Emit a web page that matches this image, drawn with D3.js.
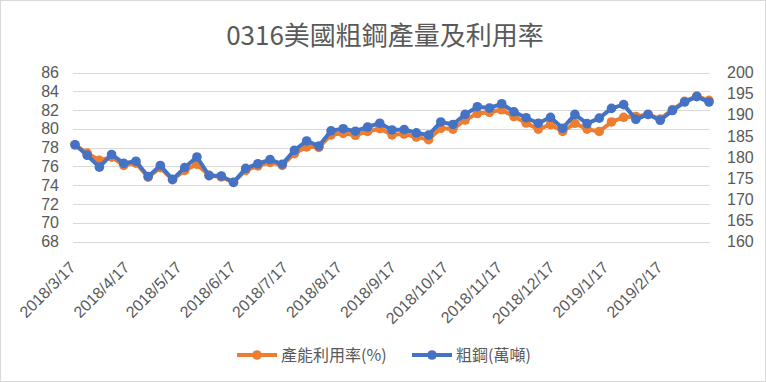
<!DOCTYPE html>
<html><head><meta charset="utf-8">
<script src="https://cdn.jsdelivr.net/npm/d3@7/dist/d3.min.js"></script>
<style>
html,body{margin:0;padding:0;background:#fff;}
svg{display:block;font-family:"Noto Sans CJK TC","Noto Sans",sans-serif;}
</style></head>
<body>
<svg id="chart" width="766" height="382"></svg>
<script>
const title = "0316美國粗鋼產量及利用率";
const dates = ["2018-03-17","2018-03-24","2018-03-31","2018-04-07","2018-04-14","2018-04-21","2018-04-28",
"2018-05-05","2018-05-12","2018-05-19","2018-05-26","2018-06-02","2018-06-09","2018-06-16","2018-06-23","2018-06-30",
"2018-07-07","2018-07-14","2018-07-21","2018-07-28","2018-08-04","2018-08-11","2018-08-18","2018-08-25",
"2018-09-01","2018-09-08","2018-09-15","2018-09-22","2018-09-29","2018-10-06","2018-10-13","2018-10-20","2018-10-27",
"2018-11-03","2018-11-10","2018-11-17","2018-11-24","2018-12-01","2018-12-08","2018-12-15","2018-12-22","2018-12-29",
"2019-01-05","2019-01-12","2019-01-19","2019-01-26","2019-02-02","2019-02-09","2019-02-16","2019-02-23",
"2019-03-02","2019-03-09","2019-03-16"];
const utilization = [78.30,77.42,76.64,76.99,76.11,76.35,74.86,75.86,74.58,75.58,76.22,75.04,74.88,74.29,75.58,76.06,
76.43,76.11,77.36,78.08,78.03,79.36,79.52,79.31,79.72,80.02,79.36,79.45,79.13,78.85,80.06,79.97,80.94,81.63,81.76,
82.03,81.31,80.62,79.97,80.46,79.72,80.59,79.97,79.72,80.73,81.23,81.32,81.53,81.04,82.05,82.92,83.48,83.04];
const production = [182.9,180.4,177.6,180.6,178.5,179.0,175.4,178.0,174.7,177.5,180.0,175.6,175.5,174.0,177.3,178.4,
179.4,178.3,181.6,183.8,182.6,186.2,186.7,186.1,187.1,188.0,186.4,186.5,185.7,185.2,188.3,187.7,190.1,191.9,191.6,
192.6,190.7,189.3,188.0,189.4,186.8,190.1,187.9,189.2,191.5,192.4,188.9,190.1,188.7,191.0,193.0,194.3,193.0];
const xTickLabels = ["2018/3/17","2018/4/17","2018/5/17","2018/6/17","2018/7/17","2018/8/17","2018/9/17",
"2018/10/17","2018/11/17","2018/12/17","2019/1/17","2019/2/17"];
const leftTicks = [68,70,72,74,76,78,80,82,84,86];
const rightTicks = [160,165,170,175,180,185,190,195,200];
const seriesNames = ["產能利用率(%)","粗鋼(萬噸)"];
const colors = ["#ED7D31","#4472C4"];

const svg = d3.select("#chart");
const parse = d3.timeParse("%Y-%m-%d");
const parseLbl = d3.timeParse("%Y/%m/%d");
const dts = dates.map(parse);

const plotL = 73, plotR = 710, plotTop = 72.5, plotBottom = 241.5;
const x = d3.scaleTime().domain([dts[0], dts[dts.length-1]]).range([75, 709]);
const yL = d3.scaleLinear().domain([68,86]).range([plotBottom, plotTop]);
const yR = d3.scaleLinear().domain([160,200]).range([plotBottom, plotTop]);
const textColor = "#595959";
const numFont = "'Liberation Sans', Arial, sans-serif";

svg.append("rect").attr("x",0.5).attr("y",0.5).attr("width",765).attr("height",381)
  .attr("fill","#fff").attr("stroke","#d9d9d9");

svg.append("text").attr("x",385).attr("y",45).attr("text-anchor","middle")
  .attr("font-size",26).attr("fill",textColor).text(title);

// gridlines
svg.append("g").selectAll("line").data(leftTicks).join("line")
  .attr("x1",plotL).attr("x2",plotR)
  .attr("y1",d=>Math.round(yL(d))+0.5).attr("y2",d=>Math.round(yL(d))+0.5)
  .attr("stroke","#d9d9d9").attr("stroke-width",1);

// left axis
const axL = d3.axisLeft(yL).tickValues(leftTicks).tickSize(0).tickPadding(0);
const gL = svg.append("g").attr("transform",`translate(59,0)`).call(axL);
gL.select(".domain").remove();
gL.attr("font-family",numFont).attr("font-size",16);
gL.selectAll("text").attr("fill",textColor);

// right axis
const axR = d3.axisRight(yR).tickValues(rightTicks).tickSize(0).tickPadding(0);
const gR = svg.append("g").attr("transform",`translate(727,0)`).call(axR);
gR.select(".domain").remove();
gR.attr("font-family",numFont).attr("font-size",16);
gR.selectAll("text").attr("fill",textColor);

// x axis labels
const axX = d3.axisBottom(x).tickValues(xTickLabels.map(parseLbl)).tickSize(0).tickPadding(0)
  .tickFormat((d,i)=>xTickLabels[i]);
const gX = svg.append("g").attr("transform",`translate(0,${plotBottom})`).call(axX);
gX.select(".domain").remove();
gX.attr("font-family",numFont).attr("font-size",16);
gX.selectAll(".tick text").attr("fill",textColor)
  .attr("text-anchor","end").attr("dy",null).attr("y",null)
  .attr("transform","translate(1,27) rotate(-45)");

// series
const series = [
  {vals: utilization, y: yL, color: colors[0]},
  {vals: production, y: yR, color: colors[1]}
];
series.forEach(s=>{
  const line = d3.line().x((d,i)=>x(dts[i])).y(d=>s.y(d));
  svg.append("path").datum(s.vals).attr("d",line).attr("fill","none")
    .attr("stroke",s.color).attr("stroke-width",4).attr("stroke-linejoin","round").attr("stroke-linecap","round");
  svg.append("g").selectAll("circle").data(s.vals).join("circle")
    .attr("cx",(d,i)=>x(dts[i])).attr("cy",d=>s.y(d)).attr("r",4.8).attr("fill",s.color);
});

// legend
const legendItems = [
  {name: seriesNames[0], color: colors[0], x0: 237},
  {name: seriesNames[1], color: colors[1], x0: 412}
];
const lg = svg.append("g");
legendItems.forEach(it=>{
  lg.append("line").attr("x1",it.x0).attr("x2",it.x0+40).attr("y1",355).attr("y2",355)
    .attr("stroke",it.color).attr("stroke-width",4);
  lg.append("circle").attr("cx",it.x0+20).attr("cy",355).attr("r",4.8).attr("fill",it.color);
  lg.append("text").attr("x",it.x0+44).attr("y",355).attr("dy","0.35em")
    .attr("font-size",16).attr("fill",textColor).text(it.name);
});
</script>
</body></html>
